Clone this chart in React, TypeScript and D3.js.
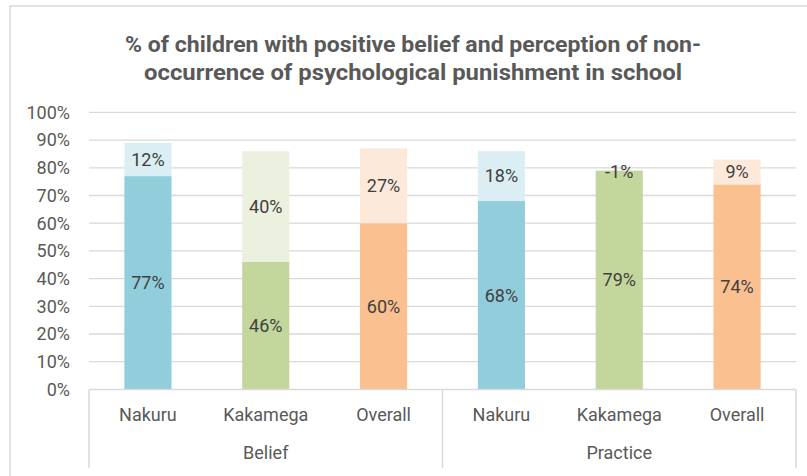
import React from "react";
import * as d3 from "d3";

const categories = ["Nakuru", "Kakamega", "Overall", "Nakuru", "Kakamega", "Overall"];
const groups = ["Belief", "Practice"];
const baseValues = [77, 46, 60, 68, 79, 74];
const topValues = [12, 40, 27, 18, -1, 9];
const baseColors = ["#92CDDC", "#C3D69B", "#FAC090", "#92CDDC", "#C3D69B", "#FAC090"];
const topColors = ["#DAEEF3", "#EBF1DE", "#FDE9D9", "#DAEEF3", "#EBF1DE", "#FDE9D9"];
const yTicks = [0, 10, 20, 30, 40, 50, 60, 70, 80, 90, 100];
const titleLines = [
  "% of children with positive belief and perception of non-",
  "occurrence of psychological punishment in school",
];
const titleWidths = [576, 538];

const W = 807;
const H = 476;
const left = 89;
const right = 796;
const top = 112.4;
const bottom = 389.4;
const FONT = "Roboto, 'Noto Sans', sans-serif";
const grid = "#d9d9d9";
const textCol = "#595959";

export default function App() {
  const y = d3.scaleLinear().domain([0, 100]).range([bottom, top]);
  const idx = categories.map((_, i) => String(i));
  const x = d3.scaleBand().domain(idx).range([left, right]).paddingInner(0.6).paddingOuter(0.3);
  const bw = x.bandwidth();
  const step = x.step();
  const groupEdges = [left, left + step * 3, right];

  return (
    <svg width={W} height={H} style={{ position: "absolute", left: 0, top: 0 }}>
      <rect x={10} y={6} width={W + 10} height={H + 10} fill="#fff" stroke={grid} strokeWidth={1.5} />
      {titleLines.map((t, i) => (
        <text key={i} x={413} y={52 + i * 28} textAnchor="middle" fontFamily={FONT} fontWeight="bold" fontSize={21.5} fill={textCol}
          textLength={titleWidths[i]} lengthAdjust="spacingAndGlyphs">
          {t}
        </text>
      ))}
      {yTicks.filter((t) => t > 0).map((t) => (
        <line key={t} x1={left} x2={right} y1={y(t)} y2={y(t)} stroke={grid} strokeWidth={1.3} />
      ))}
      {yTicks.map((t) => (
        <text key={t} x={70} y={y(t)} dy="0.35em" textAnchor="end" fontFamily={FONT} fontSize={18} fill={textCol}>
          {t}%
        </text>
      ))}
      {categories.map((c, i) => {
        const bx = x(String(i))!;
        const b = baseValues[i];
        const tv = topValues[i];
        const y0 = b;
        const y1 = b + tv;
        return (
          <g key={i}>
            <rect x={bx} y={y(b)} width={bw} height={y(0) - y(b)} fill={baseColors[i]} />
            {tv > 0 && (
              <rect x={bx} y={y(y1)} width={bw} height={y(y0) - y(y1)} fill={topColors[i]} />
            )}
            <text x={bx + bw / 2} y={y(b / 2)} dy="0.35em" textAnchor="middle" fontFamily={FONT} fontSize={18} fill="#404040">
              {b}%
            </text>
            <text x={bx + bw / 2} y={y((y0 + y1) / 2)} dy="0.35em" textAnchor="middle" fontFamily={FONT} fontSize={18} fill="#404040">
              {tv}%
            </text>
            <text x={bx + bw / 2} y={415} dy="0.35em" textAnchor="middle" fontFamily={FONT} fontSize={18} fill={textCol}>
              {c}
            </text>
          </g>
        );
      })}
      <line x1={left} x2={right} y1={bottom} y2={bottom} stroke={grid} strokeWidth={1.5} />
      {groupEdges.map((gx, i) => (
        <line key={i} x1={gx} x2={gx} y1={bottom} y2={468} stroke={grid} strokeWidth={1.5} />
      ))}
      {groups.map((g, i) => (
        <text key={g} x={(groupEdges[i] + groupEdges[i + 1]) / 2} y={453} dy="0.35em" textAnchor="middle" fontFamily={FONT} fontSize={18} fill={textCol}>
          {g}
        </text>
      ))}
    </svg>
  );
}
